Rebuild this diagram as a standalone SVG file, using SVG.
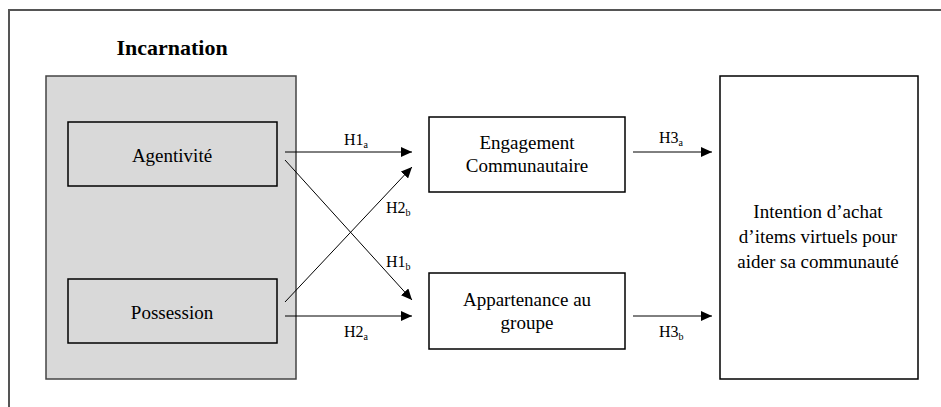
<svg xmlns="http://www.w3.org/2000/svg" width="941" height="407" viewBox="0 0 941 407" font-family="'Liberation Serif', 'Times New Roman', serif">
<style>
text{font-family:'Liberation Serif','Times New Roman',serif;fill:#000}
.lbl{font-size:19px;text-anchor:middle}
.h{font-size:16px}
.sub{font-size:10px}
.box{fill:#fff;stroke:#000;stroke-width:1.5}
.ibox{fill:#d9d9d9;stroke:#000;stroke-width:1.5}
.conn{stroke:#000;stroke-width:1;fill:none;marker-end:url(#arr)}
</style>
<defs>
<marker id="arr" markerUnits="userSpaceOnUse" markerWidth="12" markerHeight="10" refX="11" refY="5" orient="auto">
<path d="M0,0 L11,5 L0,10 Z" fill="#000"/>
</marker>
</defs>
<rect width="941" height="407" fill="#fff"/>
<path d="M9,407 V10 H941" fill="none" stroke="#555" stroke-width="2"/>
<g id="incarnation">
<text x="172" y="55" font-size="22" font-weight="bold" text-anchor="middle">Incarnation</text>
<rect x="46" y="76" width="250" height="303" fill="#d9d9d9" stroke="#444" stroke-width="1.5"/>
</g>
<g id="agentivite">
<rect class="ibox" x="68" y="122" width="209" height="64"/>
<text class="lbl" x="172" y="162">Agentivité</text>
</g>
<g id="possession">
<rect class="ibox" x="68" y="279" width="209" height="64"/>
<text class="lbl" x="172" y="319">Possession</text>
</g>
<g id="engagement">
<rect class="box" x="429" y="117" width="196" height="75"/>
<text class="lbl" x="527" y="149">Engagement</text>
<text class="lbl" x="527" y="172">Communautaire</text>
</g>
<g id="appartenance">
<rect class="box" x="429" y="273" width="196" height="76"/>
<text class="lbl" x="527" y="306">Appartenance au</text>
<text class="lbl" x="527" y="329">groupe</text>
</g>
<g id="intention">
<rect class="box" x="720" y="76" width="198" height="303"/>
<text class="lbl" x="818" y="218">Intention d’achat</text>
<text class="lbl" x="818" y="243">d’items virtuels pour</text>
<text class="lbl" x="818" y="268">aider sa communauté</text>
</g>
<g id="connectors">
<path class="conn" d="M285,152 H412"/>
<path class="conn" d="M285,160 L412,300"/>
<path class="conn" d="M285,302 L412,167"/>
<path class="conn" d="M285,316 H412"/>
<path class="conn" d="M633,152 H712"/>
<path class="conn" d="M633,316 H712"/>
<text class="h" x="344" y="145">H1<tspan class="sub" dy="3">a</tspan></text>
<text class="h" x="386" y="213">H2<tspan class="sub" dy="3">b</tspan></text>
<text class="h" x="386" y="267">H1<tspan class="sub" dy="3">b</tspan></text>
<text class="h" x="344" y="337">H2<tspan class="sub" dy="3">a</tspan></text>
<text class="h" x="659" y="143">H3<tspan class="sub" dy="3">a</tspan></text>
<text class="h" x="659" y="337">H3<tspan class="sub" dy="3">b</tspan></text>
</g>
</svg>
